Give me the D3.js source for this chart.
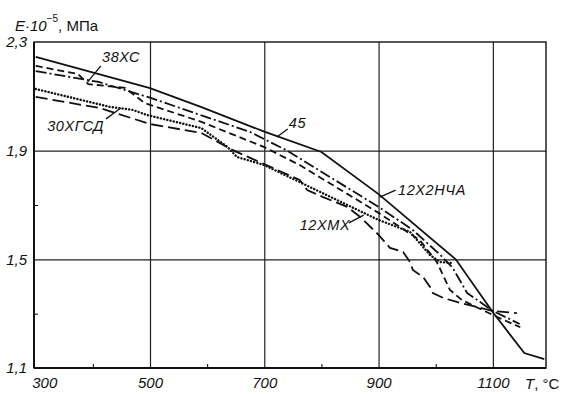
<!DOCTYPE html>
<html>
<head>
<meta charset="utf-8">
<script src="https://cdnjs.cloudflare.com/ajax/libs/d3/7.8.5/d3.min.js"></script>
<style>
    body { margin: 0; background: #fff; }
    svg text { font-family: "Liberation Sans", Arial, sans-serif; fill: #111; }
</style>
</head>
<body>
<div id="chart"></div>
<script>
// axis ticks: temperature T, °C and modulus E·10^-5, MPa
var xTicks = [300, 500, 700, 900, 1100];
var xMinor = [400, 600, 800, 1000];
var yTicks = [1.1, 1.5, 1.9, 2.3];
var yMinor = [1.3, 1.7];

// steel grades, in the order of the series below
var grades = ["45", "12Х2НЧА", "38ХС", "30ХГСД", "12ХМХ"];

// [T, E]
var steel45 = [[300, 2.245], [500, 2.13], [590, 2.06], [700, 1.97], [800, 1.895], [900, 1.74],
    [1035, 1.50], [1100, 1.305], [1155, 1.155], [1190, 1.133]];
var steel12X2 = [[300, 2.193], [410, 2.153], [500, 2.095], [590, 2.03], [675, 1.969], [740, 1.90],
    [900, 1.693], [960, 1.608], [1008, 1.516], [1030, 1.468], [1055, 1.376], [1100, 1.31], [1147, 1.262]];
var steel38 = [[300, 2.212], [374, 2.182], [392, 2.145], [456, 2.131], [491, 2.075], [590, 2.006],
    [700, 1.913], [762, 1.847], [900, 1.671], [972, 1.571], [1002, 1.49], [1025, 1.387], [1046, 1.35],
    [1100, 1.295], [1148, 1.25]];
var steel30 = [[300, 2.127], [430, 2.061], [470, 2.05], [495, 2.031], [590, 1.983], [636, 1.913],
    [652, 1.877], [700, 1.847], [780, 1.766], [900, 1.645], [955, 1.601], [990, 1.516], [1008, 1.49],
    [1030, 1.486]];
var steel12XMX = [[300, 2.098], [412, 2.057], [500, 1.998], [590, 1.965], [645, 1.902], [762, 1.792],
    [775, 1.755], [803, 1.729], [845, 1.693], [868, 1.656], [900, 1.59], [920, 1.542], [943, 1.527],
    [955, 1.49], [960, 1.461], [978, 1.435], [990, 1.398], [995, 1.376], [1013, 1.358], [1037, 1.343],
    [1100, 1.31], [1142, 1.302]];

var series = [steel45, steel12X2, steel38, steel30, steel12XMX];

// label text anchor [T, E] and leader [T1, E1, T2, E2], same order as grades
var labelAt = [[743, 1.983], [934, 1.737], [416, 2.226], [320, 1.972], [762, 1.608]];
var leaderAt = [[741, 1.98, 722, 1.95], [930, 1.755, 902, 1.729], [414, 2.212, 391, 2.153],
    [423, 2.017, 449, 2.057], [848, 1.634, 874, 1.663]];

var dashes = ["none", "11,3,2,3", "7,4", "0.1,3.2", "12,5"];

var margin = {top: 42, right: 19, bottom: 26, left: 34},
    width = 565 - margin.left - margin.right,
    height = 394 - margin.top - margin.bottom;

var svg = d3.select("#chart").append("svg")
    .attr("width", 565)
    .attr("height", 394);

var g = svg.append("g")
    .attr("transform", "translate(" + margin.left + "," + margin.top + ")");

var x = d3.scaleLinear().domain([297, 1193]).range([0, width]);
var y = d3.scaleLinear().domain([1.1, 2.3]).range([height, 0]);

// grid
g.append("g")
    .attr("class", "grid")
    .call(d3.axisBottom(x).tickValues([500, 700, 900, 1100]).tickSize(height).tickFormat(""))
    .call(function (s) { s.select(".domain").remove(); });
g.append("g")
    .attr("class", "grid")
    .call(d3.axisRight(y).tickValues([1.5, 1.9]).tickSize(width).tickFormat(""))
    .call(function (s) { s.select(".domain").remove(); });
g.selectAll(".grid line").attr("stroke", "#222").attr("stroke-width", 1.2);

// minor inward ticks
g.append("g")
    .attr("transform", "translate(0," + height + ")")
    .call(d3.axisBottom(x).tickValues(xMinor).tickSize(-4).tickFormat(""))
    .call(function (s) { s.select(".domain").remove(); });
g.append("g")
    .call(d3.axisLeft(y).tickValues(yMinor).tickSize(-4).tickFormat(""))
    .call(function (s) { s.select(".domain").remove(); });

// frame
g.append("rect")
    .attr("width", width)
    .attr("height", height)
    .attr("fill", "none")
    .attr("stroke", "#111")
    .attr("stroke-width", 1.4);
g.append("line")
    .attr("x1", 0).attr("x2", width)
    .attr("y1", height).attr("y2", height)
    .attr("stroke", "#111").attr("stroke-width", 2);
g.append("line")
    .attr("x1", 0).attr("x2", 0)
    .attr("y1", 0).attr("y2", height)
    .attr("stroke", "#111").attr("stroke-width", 2);

// tick labels
var xAxis = g.append("g")
    .attr("transform", "translate(0," + height + ")")
    .call(d3.axisBottom(x).tickValues(xTicks).tickSize(0).tickPadding(9).tickFormat(d3.format("d")));
xAxis.select(".domain").remove();
xAxis.selectAll("text").attr("font-size", 15).attr("font-style", "italic")
    .attr("font-family", null).attr("fill", null);
xAxis.selectAll(".tick").filter(function (d) { return d === 300; })
    .select("text").attr("text-anchor", "start").attr("dx", -4);

var yAxis = g.append("g")
    .call(d3.axisLeft(y).tickValues(yTicks).tickSize(0).tickPadding(7)
        .tickFormat(function (d) { return d.toFixed(1).replace(".", ","); }));
yAxis.select(".domain").remove();
yAxis.selectAll("text").attr("font-size", 15).attr("font-style", "italic")
    .attr("font-family", null).attr("fill", null);

// axis titles
var yTitle = svg.append("text")
    .attr("x", 15)
    .attr("y", 31)
    .attr("font-size", 15);
yTitle.append("tspan").attr("font-style", "italic").text("E·10");
yTitle.append("tspan").attr("font-size", 10).attr("dy", -9).text("−5");
yTitle.append("tspan").attr("dy", 9).text(", МПа");

var xTitle = svg.append("text")
    .attr("x", 525)
    .attr("y", 389)
    .attr("font-size", 15);
xTitle.append("tspan").attr("font-style", "italic").text("T");
xTitle.append("tspan").text(", °C");

// curves
var line = d3.line()
    .x(function (d) { return x(d[0]); })
    .y(function (d) { return y(d[1]); });

g.selectAll(".curve")
    .data(series)
    .enter()
    .append("path")
    .attr("class", "curve")
    .attr("d", line)
    .attr("fill", "none")
    .attr("stroke", "#111")
    .attr("stroke-width", function (d, i) { return i === 3 ? 2.4 : 1.8; })
    .attr("stroke-linecap", function (d, i) { return i === 3 ? "round" : "butt"; })
    .attr("stroke-dasharray", function (d, i) { return dashes[i]; });

// curve labels with leaders
g.selectAll(".leader")
    .data(leaderAt)
    .enter()
    .append("line")
    .attr("class", "leader")
    .attr("x1", function (d) { return x(d[0]); })
    .attr("y1", function (d) { return y(d[1]); })
    .attr("x2", function (d) { return x(d[2]); })
    .attr("y2", function (d) { return y(d[3]); })
    .attr("stroke", "#111")
    .attr("stroke-width", 1.3);

g.selectAll(".grade")
    .data(grades)
    .enter()
    .append("text")
    .attr("class", "grade")
    .attr("x", function (d, i) { return x(labelAt[i][0]); })
    .attr("y", function (d, i) { return y(labelAt[i][1]); })
    .attr("font-size", 14.5)
    .attr("font-style", "italic")
    .attr("letter-spacing", 0.6)
    .text(function (d) { return d; });
</script>
</body>
</html>
